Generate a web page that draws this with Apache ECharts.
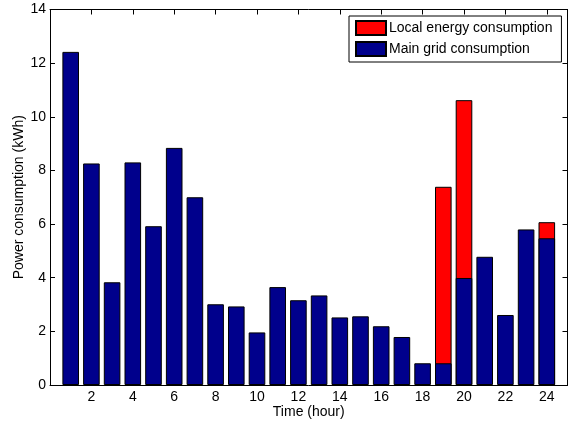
<!DOCTYPE html>
<html>
<head>
<meta charset="utf-8">
<script src="https://cdn.jsdelivr.net/npm/echarts@6/dist/echarts.min.js"></script>
<style>html,body{margin:0;padding:0;background:#fff;}#c{width:578px;height:421px;}</style>
</head>
<body>
<div id="c"></div>
<script>
const hours = [1,2,3,4,5,6,7,8,9,10,11,12,13,14,15,16,17,18,19,20,21,22,23,24];
const mainGrid = [12.42,8.26,3.83,8.30,5.92,8.84,7.00,3.01,2.93,1.96,3.65,3.16,3.34,2.52,2.56,2.19,1.79,0.81,0.81,3.99,4.78,2.61,5.80,5.47];
const localEnergy = [0,0,0,0,0,0,0,0,0,0,0,0,0,0,0,0,0,0,6.58,6.63,0,0,0,0.60];
const yTicks = [0,2,4,6,8,10,12,14];

// stacked top of each bar (main grid + local energy)
const stackTop = mainGrid.map((m,i)=> +(m + localEnergy[i]).toFixed(2));

const font = 'Liberation Sans, Arial, Helvetica, sans-serif';
const chart = echarts.init(document.getElementById('c'), null, {renderer:'canvas'});
const axisLine = {show:true, onZero:false, lineStyle:{color:'#000', width:1}};
const tickIn = {show:true, inside:true, length:5, lineStyle:{color:'#000', width:1}};
const labelStyle = {color:'#000', fontSize:14, fontFamily:font};

chart.setOption({
  animation:false,
  backgroundColor:'#fff',
  grid:{left:50, right:10.5, top:9.5, bottom:36, containLabel:false, outerBoundsMode:'none'},
  legend:{
    data:['Local energy consumption','Main grid consumption'],
    orient:'vertical', left:349, top:16,
    padding:[4,9,5,6],
    itemWidth:30, itemHeight:14, itemGap:5,
    borderColor:'#000', borderWidth:1, backgroundColor:'#fff',
    textStyle:{color:'#000', fontSize:14, lineHeight:14, fontFamily:font, padding:[0,0,0,-2]},
    icon:'rect'
  },
  xAxis:[
    {type:'value', min:0, max:25, interval:2, position:'bottom',
     name:'Time (hour)', nameLocation:'middle', nameGap:20, nameMoveOverlap:false,
     nameTextStyle:{color:'#000', fontSize:14, fontFamily:font},
     axisLine:axisLine, axisTick:tickIn, splitLine:{show:false},
     axisLabel:Object.assign({margin:5, formatter:v => (v>0 && v<25) ? String(v) : ''}, labelStyle)},
    {type:'value', min:0, max:25, interval:2, position:'top',
     axisLine:axisLine, axisTick:tickIn, splitLine:{show:false}, axisLabel:{show:false}}
  ],
  yAxis:[
    {type:'value', min:0, max:14, interval:2, position:'left',
     name:'Power consumption (kWh)', nameLocation:'middle', nameGap:24, nameMoveOverlap:false,
     nameTextStyle:{color:'#000', fontSize:14, fontFamily:font},
     axisLine:axisLine, axisTick:tickIn, splitLine:{show:false},
     axisLabel:Object.assign({margin:4, formatter:v => yTicks.indexOf(v) >= 0 ? String(v) : ''}, labelStyle)},
    {type:'value', min:0, max:14, interval:2, position:'right',
     axisLine:axisLine, axisTick:tickIn, splitLine:{show:false}, axisLabel:{show:false}}
  ],
  series:[
    {name:'Local energy consumption', type:'bar', barWidth:16.6, barGap:'-100%',
     xAxisIndex:0, yAxisIndex:0, z:2,
     itemStyle:{color:'#FF0000', borderColor:'#000', borderWidth:1},
     data:hours.map((h,i)=> localEnergy[i] > 0 ? [h, stackTop[i]] : [h, null])},
    {name:'Main grid consumption', type:'bar', barWidth:16.6, barGap:'-100%',
     xAxisIndex:0, yAxisIndex:0, z:3,
     itemStyle:{color:'#00008C', borderColor:'#000', borderWidth:1},
     data:hours.map((h,i)=>[h, mainGrid[i]])}
  ]
});
</script>
</body>
</html>
